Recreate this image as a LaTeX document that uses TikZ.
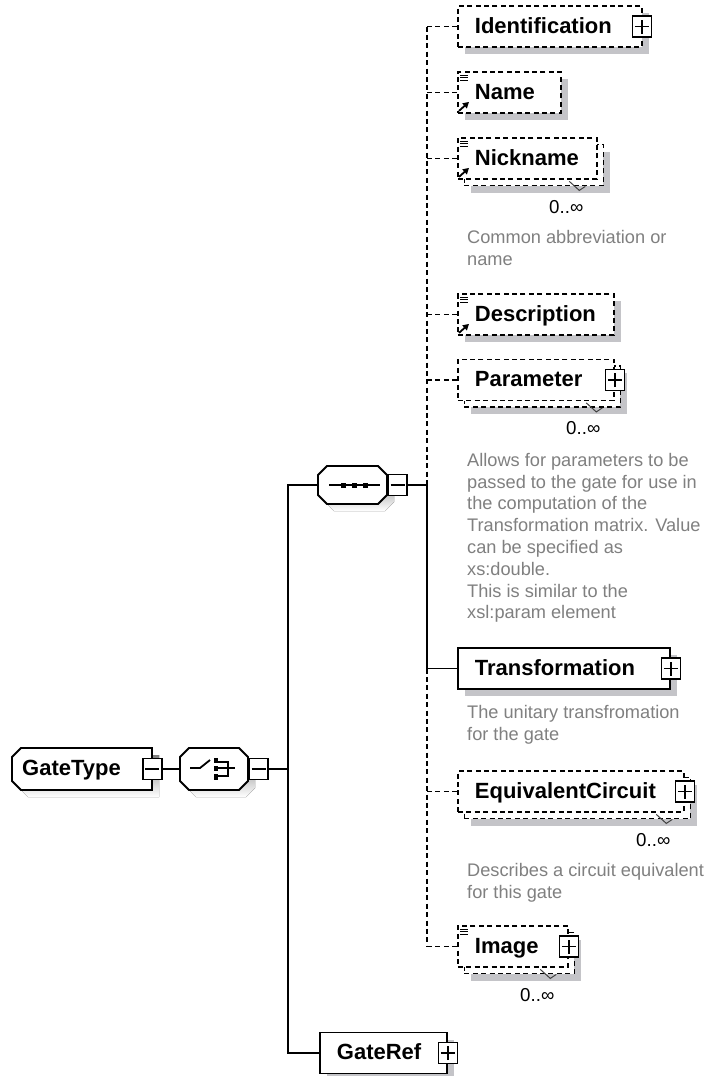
\documentclass[tikz,border=0pt]{standalone}
\usepackage{fontspec}
\setmainfont{Liberation Sans}
\usetikzlibrary{shadows,arrows.meta,calc}

\definecolor{shade}{RGB}{196,196,200}
\definecolor{notegray}{RGB}{128,128,128}

\begin{document}
\begin{tikzpicture}[x=1pt,y=-1pt,line join=miter,
  conn/.style={line width=1.8pt, black},
  optconn/.style={conn, dash pattern=on 5pt off 3.4pt},
  box/.style={draw, line width=1.8pt, fill=white, rectangle, anchor=west,
    minimum height=41pt, inner ysep=0pt, inner xsep=17pt, align=left,
    font=\bfseries\fontsize{22}{26}\selectfont, text height=16pt, text depth=3pt},
  optbox/.style={dash pattern=on 5pt off 3.4pt},
  shadowed/.style={general shadow={fill=shade, shadow xshift=7pt, shadow yshift=-7pt}},
  multibox/.style={
    general shadow={fill=shade, shadow xshift=13.5pt, shadow yshift=-13.5pt},
    general shadow={draw, fill=white, line width=1.8pt, dash pattern=on 5pt off 3.4pt,
      shadow xshift=6.5pt, shadow yshift=-6.5pt}},
  toggle/.style={draw, fill=white, line width=1.6pt, minimum width=19pt,
    minimum height=21pt, inner sep=0pt},
  plusicon/.style={toggle, path picture={
    \draw[line width=1.6pt]
      ([xshift=-7pt]path picture bounding box.center) -- ([xshift=7pt]path picture bounding box.center)
      ([yshift=-7pt]path picture bounding box.center) -- ([yshift=7pt]path picture bounding box.center);}},
  minusicon/.style={toggle, path picture={
    \draw[line width=1.6pt]
      ([xshift=-7pt]path picture bounding box.center) -- ([xshift=7pt]path picture bounding box.center);}},
  notetext/.style={anchor=north west, inner sep=0pt, align=left, text=notegray,
    font=\fontsize{18.2}{21.8}\selectfont},
  occurs/.style={inner sep=0pt, font=\fontsize{18.7}{22}\selectfont},
]
\useasboundingbox[fill=white] (0,0) rectangle (708,1076);

% ---- root element GateType
\fill[shade] (28,755) -- (159,755) -- (159,797) -- (28,797) -- (19,788) -- (19,764) -- cycle;
\draw[line width=1.8pt, fill=white] (21,748) -- (152,748) -- (152,790) -- (21,790) -- (12,781) -- (12,757) -- cycle;
\node[anchor=west, inner xsep=10pt, inner ysep=0pt, text width=120pt, minimum height=42pt,
  align=left, font=\bfseries\fontsize{22}{26}\selectfont, text height=16pt, text depth=3pt]
  (gatetype) at (12,769) {GateType};
\node[minusicon] (gatetypem) at (gatetype.east) {};

% ---- choice compositor
\fill[shade] (196,755) -- (246,755) -- (255,764) -- (255,788) -- (246,797) -- (196,797) -- (187,788) -- (187,764) -- cycle;
\draw[line width=1.8pt, fill=white] (189,748) -- (239,748) -- (248,757) -- (248,781) -- (239,790) -- (189,790) -- (180,781) -- (180,757) -- cycle;
\node[inner sep=0pt, minimum width=68pt, minimum height=42pt] (choice) at (214,769) {};
\node[minusicon, anchor=west] (choicem) at (choice.east) {};
% choice symbol
\draw[line width=1.8pt] (190,768) -- (200,768) -- (210,760);
\draw[line width=4pt] (215.5,758) -- (215.5,763) (215.5,766) -- (215.5,771) (215.5,774) -- (215.5,780);
\draw[line width=1.8pt] (218,762) -- (228,762) -- (228,776) -- (218,776) (218,768) -- (235,768);

% ---- sequence compositor
\fill[shade] (334,473) -- (385,473) -- (394,482) -- (394,502) -- (385,511) -- (334,511) -- (325,502) -- (325,482) -- cycle;
\draw[line width=1.8pt, fill=white] (327,466) -- (378,466) -- (387,475) -- (387,495) -- (378,504) -- (327,504) -- (318,495) -- (318,475) -- cycle;
\node[inner sep=0pt, minimum width=69pt, minimum height=38pt] (seq) at (352.5,485) {};
\node[minusicon, anchor=west] (seqm) at (seq.east) {};
% sequence symbol
\draw[line width=1.8pt] (329,485) -- (380,485);
\foreach \sx in {343.5,354.5,365.5} \fill (\sx-2.5,482.5) rectangle (\sx+2.5,487.5);

% ---- child elements
\node[box, shadowed, optbox, text width=150pt] (ident) at (457,26.5) {Identification};
\node[plusicon] (identx) at ([xshift=-1pt]ident.east) {};

\node[box, shadowed, optbox, text width=69pt] (name) at (457,92.5) {Name};

\node[box, multibox, optbox, text width=105pt] (nick) at (457,158.5) {Nickname};

\node[box, shadowed, optbox, text width=122pt] (desc) at (457,314.5) {Description};

\node[box, multibox, optbox, text width=122pt] (param) at (457,380) {Parameter};
\node[plusicon] (paramx) at (param.east) {};

\node[box, shadowed, text width=178pt] (trans) at (457,668.5) {Transformation};
\node[plusicon] (transx) at (trans.east) {};

\node[box, multibox, optbox, text width=192pt] (equiv) at (457,791.5) {EquivalentCircuit};
\node[plusicon] (equivx) at (equiv.east) {};

\node[box, multibox, optbox, text width=76pt] (image) at (457,946.5) {Image};
\node[plusicon] (imagex) at (image.east) {};

\node[box, shadowed, text width=93pt] (gateref) at (319,1053) {GateRef};
\node[plusicon] (gaterefx) at (gateref.east) {};

% simple-content markers
\foreach \n in {name,nick,desc,image}
  \draw[line width=1.1pt] ([shift={(3,4)}]\n.north west) -- ++(8,0) ++(-8,2.8) -- ++(8,0) ++(-8,2.8) -- ++(8,0);
\foreach \n in {name,nick,desc}
  \draw[line width=1.8pt, -{Triangle[length=6pt,width=6.5pt]}] ([shift={(2,-3)}]\n.south west) -- ++(10,-9);

% occurrence ticks and labels
\foreach \n in {nick,param,equiv,image}{
  \draw[line width=1pt, black!75] ([shift={(-28.5,1.5)}]\n.south east) -- ++(10,9) -- ++(6,-4);
  \node[occurs] (\n occ) at ([shift={(-31.5,27)}]\n.south east) {0..∞};
}

% ---- connectors
\coordinate (outer) at (288,769);
\coordinate (inner) at (427,485);
\draw[conn] (gatetypem.east) -- (choice.west);
\draw[conn] (choicem.east) -- (outer);
\draw[conn] (seq.west) -- (seq.west -| outer) -- (gateref.west -| outer) -- (gateref.west);
\draw[conn] (seqm.east) -- (inner);
\draw[optconn] (ident.west -| inner) -- (inner);
\draw[conn] (inner) -- (trans.west -| inner) -- (trans.west);
\draw[optconn] (trans.west -| inner) -- (image.west -| inner);
\foreach \n in {ident,name,nick,desc,param,equiv,image}
  \draw[optconn] (\n.west -| inner) -- (\n.west);

% ---- annotations
\node[notetext] (nicknote) at (467,230) {Common abbreviation or\\name};
\node[notetext] (paramnote) at (467,453) {Allows for parameters to be\\passed to the gate for use in\\the computation of the\\Transformation matrix. Value\\can be specified as\\xs:double.\\This is similar to the\\xsl:param element};
\node[notetext] (transnote) at (467,705) {The unitary transfromation\\for the gate};
\node[notetext] (equivnote) at (467,863) {Describes a circuit equivalent\\for this gate};
\end{tikzpicture}
\end{document}
